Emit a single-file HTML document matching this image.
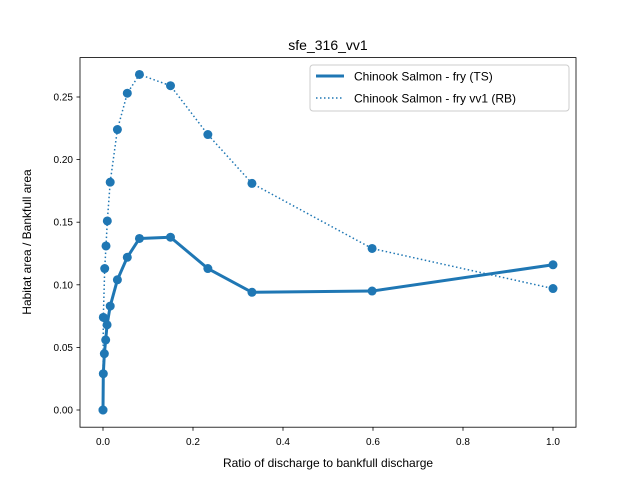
<!DOCTYPE html>
<html><head><meta charset="utf-8"><style>body{margin:0;background:#fff}svg{display:block;font-family:"Liberation Sans","DejaVu Sans",sans-serif}</style></head>
<body>
<svg id="chart" width="640" height="480">
<rect width="640" height="480" fill="#fff"/>
<text x="328" y="50" font-size="14" text-anchor="middle">sfe_316_vv1</text>
<g id="plot"></g>
<rect x="80" y="57.6" width="496" height="369.6" fill="none" stroke="#000" stroke-width="0.8"/>
<text x="328" y="467" font-size="12" text-anchor="middle">Ratio of discharge to bankfull discharge</text>
<text transform="translate(31,242) rotate(-90)" font-size="12" text-anchor="middle">Habitat area / Bankfull area</text>
<g>
<rect x="310" y="65" width="259" height="46" rx="3" fill="#fff" fill-opacity="0.8" stroke="#ccc"/>
<line x1="316" y1="76" x2="344" y2="76" stroke="#1f77b4" stroke-width="3"/>
<text x="354" y="80.5" font-size="12">Chinook Salmon - fry (TS)</text>
<line x1="316" y1="98" x2="344" y2="98" stroke="#1f77b4" stroke-width="1.5" stroke-dasharray="1.5,2.5"/>
<text x="354" y="102.5" font-size="12">Chinook Salmon - fry vv1 (RB)</text>
</g>
</svg>
<script>
const tsX=[0,0.0007,0.003,0.006,0.009,0.016,0.032,0.054,0.081,0.15,0.233,0.331,0.598,1.0];
const tsY=[0,0.029,0.045,0.056,0.068,0.083,0.104,0.122,0.137,0.138,0.113,0.094,0.095,0.116];
const rbX=[0,0.0007,0.0038,0.0067,0.0096,0.016,0.032,0.054,0.081,0.15,0.233,0.331,0.598,1.0];
const rbY=[0,0.074,0.113,0.131,0.151,0.182,0.224,0.253,0.268,0.259,0.220,0.181,0.129,0.097];
const xTicks=[0,0.2,0.4,0.6,0.8,1.0];
const xTickLabels=["0.0","0.2","0.4","0.6","0.8","1.0"];
const yTicks=[0,0.05,0.1,0.15,0.2,0.25];
const yTickLabels=["0.00","0.05","0.10","0.15","0.20","0.25"];
const NS="http://www.w3.org/2000/svg";
const sx=v=>103+v*450, sy=v=>410-v*1252;
const g=document.getElementById('plot');
function mk(t,a){const e=document.createElementNS(NS,t);for(const k in a)e.setAttribute(k,a[k]);g.appendChild(e);return e;}
xTicks.forEach((v,i)=>{
 const l=mk('line',{x1:sx(v),x2:sx(v),y1:427.2,y2:430.7,stroke:'#000','stroke-width':0.8});
 
 
 const t=mk('text',{x:sx(v),y:445,'font-size':10,'text-anchor':'middle'});t.textContent=xTickLabels[i];
 
 
});
yTicks.forEach((v,i)=>{
 const l=mk('line',{x1:76.5,x2:80,y1:sy(v),y2:sy(v),stroke:'#000','stroke-width':0.8});
 
 
 const t=mk('text',{x:73,y:sy(v)+3.5,'font-size':10,'text-anchor':'end'});t.textContent=yTickLabels[i];
 
 
});
function series(X,Y,w,dash,name){
 const p=mk('polyline',{points:X.map((x,i)=>sx(x)+','+sy(Y[i])).join(' '),fill:'none',stroke:'#1f77b4','stroke-width':w,'stroke-dasharray':dash,'stroke-linejoin':'round'});
 
 
 X.forEach((x,i)=>{const c=mk('circle',{cx:sx(x),cy:sy(Y[i]),r:4.5,fill:'#1f77b4'});
 
 });
}
series(rbX,rbY,1.5,'1.5,2.5','rb-series');
series(tsX,tsY,3,'none','ts-series');
</script>
</body></html>
